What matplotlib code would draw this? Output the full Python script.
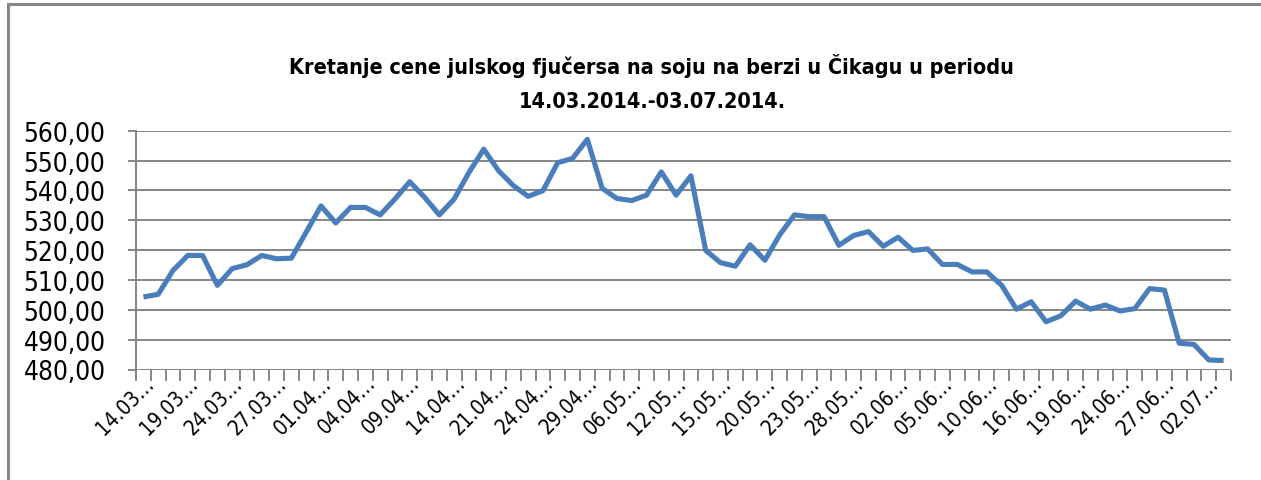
import matplotlib
matplotlib.use("Agg")
import matplotlib.pyplot as plt
from matplotlib.patches import Rectangle
from matplotlib.ticker import FixedLocator, FuncFormatter
import matplotlib.font_manager as fm

# ---- data ----
dates = [
    "14.03.2014", "17.03.2014", "18.03.2014", "19.03.2014", "20.03.2014", "21.03.2014",
    "24.03.2014", "25.03.2014", "26.03.2014", "27.03.2014", "28.03.2014", "31.03.2014",
    "01.04.2014", "02.04.2014", "03.04.2014", "04.04.2014", "07.04.2014", "08.04.2014",
    "09.04.2014", "10.04.2014", "11.04.2014", "14.04.2014", "15.04.2014", "16.04.2014",
    "21.04.2014", "22.04.2014", "23.04.2014", "24.04.2014", "25.04.2014", "28.04.2014",
    "29.04.2014", "30.04.2014", "01.05.2014", "06.05.2014", "07.05.2014", "08.05.2014",
    "12.05.2014", "13.05.2014", "14.05.2014", "15.05.2014", "16.05.2014", "19.05.2014",
    "20.05.2014", "21.05.2014", "22.05.2014", "23.05.2014", "26.05.2014", "27.05.2014",
    "28.05.2014", "29.05.2014", "30.05.2014", "02.06.2014", "03.06.2014", "04.06.2014",
    "05.06.2014", "06.06.2014", "09.06.2014", "10.06.2014", "11.06.2014", "12.06.2014",
    "16.06.2014", "17.06.2014", "18.06.2014", "19.06.2014", "20.06.2014", "23.06.2014",
    "24.06.2014", "25.06.2014", "26.06.2014", "27.06.2014", "30.06.2014", "01.07.2014",
    "02.07.2014", "03.07.2014",
]
prices = [
    504.3, 505.2, 513.2, 518.2, 518.2, 508.2, 513.8, 515.1, 518.2, 517.1,
    517.3, 526.0, 534.8, 529.1, 534.3, 534.3, 531.8, 537.1, 542.9, 537.7,
    531.8, 537.1, 546.0, 553.8, 546.6, 541.6, 538.0, 539.9, 549.3, 550.7,
    557.1, 540.7, 537.3, 536.6, 538.4, 546.2, 538.4, 544.9, 519.9, 515.8,
    514.6, 521.8, 516.6, 525.1, 531.8, 531.2, 531.2, 521.6, 524.9, 526.2,
    521.3, 524.3, 519.9, 520.4, 515.2, 515.2, 512.7, 512.7, 508.2, 500.2,
    502.7, 496.0, 498.0, 502.9, 500.2, 501.6, 499.6, 500.4, 507.1, 506.6,
    488.8, 488.4, 483.2, 483.0,
]
y_ticks = [480, 490, 500, 510, 520, 530, 540, 550, 560]
title = "Kretanje cene julskog fjučersa na soju na berzi u Čikagu u periodu\n14.03.2014.-03.07.2014."


# ---- fonts: prefer a condensed face (reference uses a narrow font) ----
def pick_font(bold):
    best = None
    for f in fm.fontManager.ttflist:
        nm = (f.name + " " + f.fname).lower()
        condensed = ("condensed" in nm or "narrow" in nm or
                     str(f.stretch) in ("condensed", "semi-condensed", "extra-condensed"))
        if not condensed or "italic" in nm or "oblique" in nm or f.style != "normal":
            continue
        pen = 1 if ("semi" in nm or "extra" in nm or "ultra" in nm) else 0
        try:
            w = int(f.weight)
        except Exception:
            w = 700 if "bold" in str(f.weight) else 400
        target = 700 if bold else 400
        score = abs(w - target) / 100 + pen
        if best is None or score < best[0]:
            best = (score, f.fname)
    if best is None:
        return fm.FontProperties(family="Liberation Sans",
                                 weight="bold" if bold else "normal")
    return fm.FontProperties(fname=best[1])


fp_reg = pick_font(False)
fp_bold = pick_font(True)

W, H = 1261, 481
fig = plt.figure(figsize=(W / 100, H / 100), dpi=100)
renderer = fig.canvas.get_renderer()


def fit_size(text, fp, width_px, start=20.0):
    t = fig.text(0, 0, text, fontproperties=fp)
    t.set_fontsize(start)
    wpx = t.get_window_extent(renderer).width
    t.remove()
    return start * width_px / wpx


# chart area border (right and bottom edges are cropped off in the reference)
fig.patches.append(Rectangle((8 / W, -10 / H), (W + 20) / W, (H + 5) / H,
                             transform=fig.transFigure, fill=False,
                             edgecolor="#868686", linewidth=2.2))

ax = fig.add_axes([136 / W, 1 - 370.5 / H, (1231 - 136) / W, (370.5 - 131.7) / H])
x = list(range(len(prices)))
ax.plot(x, prices, color="#4A7EBB", linewidth=3.7, solid_joinstyle="round",
        solid_capstyle="butt", zorder=3)

ax.set_ylim(480, 560)
ax.set_xlim(-0.5, len(prices) - 0.5)
ax.grid(axis="y", color="#868686", linewidth=1.4)
ax.set_axisbelow(True)

for s in ["top", "right", "bottom"]:
    ax.spines[s].set_visible(False)
ax.spines["left"].set_color("#868686")
ax.spines["left"].set_linewidth(1.4)
ax.spines["left"].set_bounds(480 - 80 * 8.5 / 238.8, 560)

# y ticks
ysize = fit_size("560,00", fp_reg, 91) * 0.9
ax.set_yticks(y_ticks, labels=[f"{v:.2f}".replace(".", ",") for v in y_ticks])
ax.tick_params(axis="y", length=6, width=1.4, color="#868686", pad=16,
               labelcolor="#000000")
for lab in ax.get_yticklabels():
    lab.set_fontproperties(fp_reg)
    lab.set_fontsize(ysize)

# category ticks between categories
ax.xaxis.set_major_locator(FixedLocator([i + 0.5 for i in range(-1, len(prices))]))
ax.xaxis.set_major_formatter(FuncFormatter(lambda v, p: ""))
ax.tick_params(axis="x", which="major", length=8, width=1.4, color="#868686")

# labels every 3rd category
xsize = min(fit_size("14.03…", fp_reg, 72), 18)
ax.set_xticks(list(range(0, len(prices), 3)), minor=True)
ax.set_xticklabels([dates[i][:5] + "…" for i in range(0, len(prices), 3)], minor=True,
                   rotation=45, ha="right", rotation_mode="anchor")
ax.tick_params(axis="x", which="minor", length=0, pad=2)
for lab in ax.get_xticklabels(minor=True):
    lab.set_fontproperties(fp_reg)
    lab.set_fontsize(xsize)

tsize = fit_size(title.split("\n")[0], fp_bold, 724)
ttl = fig.text(0.517, 1 - 83 / H, title, ha="center", va="center", linespacing=1.85)
ttl.set_fontproperties(fp_bold)
ttl.set_fontsize(tsize)

fig.savefig("out.png", dpi=100)
